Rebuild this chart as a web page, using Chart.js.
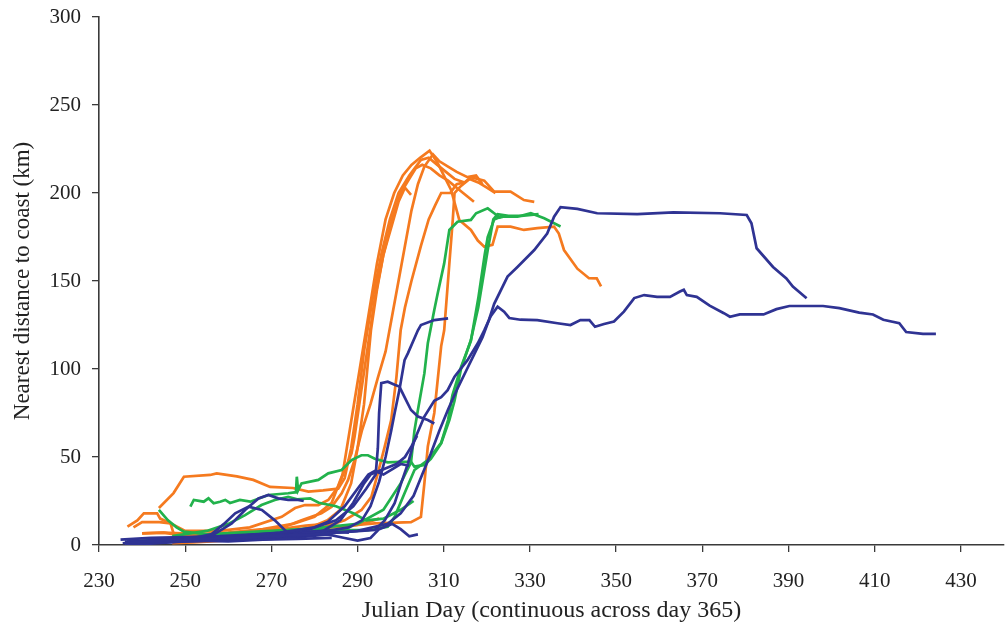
<!DOCTYPE html>
<html>
<head>
<meta charset="utf-8">
<script src="https://cdn.jsdelivr.net/npm/chart.js@4/dist/chart.umd.min.js"></script>
<style>
  html, body { margin: 0; padding: 0; background: #fff; }
  #wrap { width: 1005px; height: 631px; }
</style>
</head>
<body>
<div id="wrap"><canvas id="myChart" width="1005" height="631"></canvas></div>
<script>
// tick labels
const xTicks = [230, 250, 270, 290, 310, 330, 350, 370, 390, 410, 430];
const yTicks = [0, 50, 100, 150, 200, 250, 300];

// tracks, [julian day, km from coast]
// blue group
const blue1 = [[235.5,1],[240,2],[250,3],[260,4],[270,5],[280,6],[290,8],[297,12],[300,18],[303,28],[305,40],[307,52],[309,65],[311,77],[313,88],[315,98],[317,108],[319,118],[320.5,128],[321.7,137],[324.8,152.5],[327.1,158],[331,167.6],[334,177],[335.6,186.5],[337.1,192],[341,191],[345.6,188.5],[354.9,188],[363.3,189],[374.1,188.5],[380.3,187.5],[381.4,182.8],[382.6,168.6],[386.4,158],[389.5,151.5],[391,146.8],[394.2,140.2]];
const blue2 = [[236,0.5],[245,2],[255,3],[265,4],[275,5],[285,7],[294,8.5],[296.3,14],[298.6,23.7],[300.1,35],[301.7,46.4],[303.2,59.7],[305.5,73],[307.8,82],[309.4,84],[310.9,88],[312.5,95.6],[315.5,105],[317.9,114.6],[319.4,122],[320.9,130],[322.5,135.4],[324,132.6],[325.2,129],[327.8,128],[331.7,127.8],[336.4,126],[339.4,125],[341.7,127.8],[343.8,127.8],[345.1,124],[347.2,125.6],[349.5,127],[351.8,132.6],[354.2,140.3],[356.5,142],[359.5,141],[362.5,141],[364.8,144],[365.7,145],[366.4,142],[368.7,141],[371.7,136],[375,131.7],[376.4,129.7],[378.7,131],[384.2,131],[387.2,134],[390.2,135.8],[398,135.8],[401.8,134.6],[406.4,132],[409.6,131],[412,128],[415.7,126],[417.3,121],[421.2,120],[424.2,120]];
const blue3 = [[236.5,2],[245,3],[255,4],[265,5],[275,6],[283,8],[288,10],[291,14],[293,22],[295,36],[296.5,50],[297.8,65],[298.6,75],[299.7,88],[300.9,105],[301.7,109],[304,122],[304.7,125],[307.8,127.8],[311,128.8]];
const blue4 = [[237,1],[250,3],[262,5],[272,7],[280,10],[285,14],[289,22],[292,32],[294.2,40],[294.7,55],[295,75],[295.5,92],[297,92.8],[298.6,91],[299.7,90],[300.9,84],[302.4,76.7],[304,73],[306.3,71],[307.8,69]];
const blue5 = [[256,5],[258,8],[260.8,12.3],[263.9,19.9],[267,26.5],[269.3,28.4],[271.6,26.5],[273.9,25.6],[276.2,25.6],[277.5,25]];
const blue6 = [[250,3],[256,6],[259,12],[261.6,18],[264.7,21.8],[267.8,19.9],[270.8,14],[273.9,6.6],[277,5],[282,8],[286,14],[289,24],[291.5,35],[293,40],[295,42],[297,44],[299,46],[301,50],[302.5,56],[303.8,62]];
const blue7 = [[237,0],[250,2],[260,3],[270,5],[278,8],[283,13],[287,22],[290,32],[292.5,40],[294,42],[296,40],[298,43],[300,46],[302,45]];
const blue8 = [[236,1],[250,2],[265,3],[275,4],[283,6],[287,4],[290,2.5],[293,4],[295,9],[298,12],[300,9],[302,5],[304,6]];
const blue9 = [[235,3],[242,4],[250,4.5],[258,5],[266,6],[274,7],[282,8],[288,7]];
const blue10 = [[236,2],[244,1.5],[252,2.5],[260,2],[268,3],[276,3.5],[284,4]];

// green group
const green1 = [[243.9,20],[246,14],[248,10],[249.7,7.6],[255,6],[262,7],[270,8],[278,9],[284.7,8.5],[292.4,8.5],[297,10.4],[298.6,16],[300.9,29.4],[303.2,42.6],[306.3,48.3],[309.4,58],[311,71],[312,85],[314,101],[316.3,116],[318,140],[319.5,165],[320.2,175],[321.7,185],[323.2,186.5],[327.1,186.5],[330.2,188.5],[333.3,185.6],[337.1,181]];
const green2 = [[251.2,21.8],[252,25.6],[254.3,24.6],[255.4,26.5],[256.6,23.7],[258.1,24.6],[259.3,25.6],[260.4,23.9],[262.7,25.6],[265.1,24.6],[269.3,28.4],[273.9,29.4],[275.7,30],[275.9,38.8],[276.2,31],[277,35],[280.9,37],[283.2,40.7],[286.3,42.6],[288.6,48.3],[290.9,51],[292.4,51],[294,49],[297,47],[300.1,47.3],[302.4,47.3],[303.2,44.5],[305.5,45.5],[307,49],[309.4,57.8],[311.3,71],[312.5,82],[314,100],[316.3,116.5],[318,135],[320.2,167.6],[321.5,185],[322.5,188],[325,187],[328,187],[332,188]];
const green3 = [[237,2],[250,4],[262,6],[272,8],[282,10],[290,12],[296,20],[300,35],[302.4,47],[303.2,65],[304,76.7],[305.5,97.5],[306.3,114.6],[307.8,133.5],[308.6,143],[310.1,160],[311.3,179],[313.2,183.7],[316.3,184.7],[317.5,188.5],[320.2,191.3],[321.7,188.5],[323,186],[324.5,187]];
const green4 = [[247,5],[255,8],[260,12],[263.9,17],[267.7,22.7],[270.8,25.6],[273.9,27.4],[276,26],[279,26.5],[281,24],[285,22],[289,18],[292,14],[296,15],[300,20],[303,25]];

// orange group
const orange1 = [[236.6,10.4],[238.9,14],[240.4,18],[243.5,18],[244.2,15],[246.6,12.3],[247.3,6.6],[252,6],[260,7],[268,9],[275,12],[280,16],[284,24],[286.5,40],[288.5,70],[290.5,100],[292.5,130],[294.5,160],[296.5,185],[298.5,200],[300.5,210],[302.5,216],[304.5,220],[306.7,224],[308.6,217],[310,210],[311.7,201.7],[313.6,184.7],[316.3,179],[317.9,173],[319.4,169.5],[321.3,170.5],[322.5,180.9],[325.5,180.9],[328.6,179],[331.7,180],[335.6,180.9],[336.7,177],[337.9,167.6],[341,157],[343.7,151.6],[345.5,151.5],[346.5,147]];
const orange2 = [[243.9,21],[247.3,29.5],[249.7,38.8],[255.8,39.8],[257.3,40.7],[262,39],[265.8,37],[269.7,33],[275,32.4],[278.6,30.3],[282,31],[285.5,32],[287,38],[288.5,55],[290,80],[291.5,110],[293.5,140],[295.5,165],[297.5,185],[299.5,200],[302,210],[304.7,218.8],[306.5,220],[308.5,216],[310.5,212],[312.5,208],[314.8,206],[316.3,209],[319.4,207],[321.7,200.8],[325.5,200.8],[328.6,196],[331,195]];
const orange3 = [[238,10],[240,13],[244,13],[246.6,12.3],[250,8],[258,8],[265,10],[272.4,16],[275.5,21],[277.8,22.7],[280.9,22.7],[283.2,25.6],[285.5,33],[287,42.6],[288.6,52],[289.3,61.5],[291,90],[292.5,115],[294,140],[296,165],[298,185],[300,200],[302,208],[303.5,214],[305,216],[307,214],[309,210],[311,207],[313,203],[315,199],[317,195]];
const orange4 = [[240,6.6],[245,7],[255,6],[262,7],[269.3,8.5],[273.1,10.4],[277,14],[279.3,16],[281.6,18],[284,21.8],[286.3,29.4],[287.8,37],[289.3,48.3],[291,65],[293,80],[294.7,95],[296.5,110],[298,130],[299.5,150],[301,170],[302.5,190],[304,205],[305.5,215],[307.5,222],[309,218],[311,215],[313,212],[315.5,209],[317.5,210],[319,205]];
const orange5 = [[255,3],[265,5],[275,7],[282,10],[287,14],[290.9,19.9],[293.2,27.4],[294.7,40.7],[296.3,55.9],[297.8,71],[299,95],[300,122],[301,135],[302.5,150],[304.7,170],[306.5,185],[308,193],[309.4,200],[311.5,200],[313,205],[314.8,206]];
const orange6 = [[240,6.6],[245,7],[250,5],[260,6],[270,7],[280,9],[288,11],[294,12.3],[302.4,13],[304.7,16],[305.5,35],[306.3,56],[307.8,75],[309.4,113],[310.1,122],[311.3,160],[312.1,185],[312.5,200],[314,204],[316,208],[318,206],[320,203],[322,200]];
const orange7 = [[247,1],[252,1.5],[256,2],[262,3],[268,5],[274,7],[279,10],[283,14],[286,20],[288.5,35],[290,55],[291.5,80],[293.1,122],[294.5,145],[296,165],[298,182],[299.5,195],[301,203],[302.4,199]];
const orange8 = [[250,4],[258,5],[265,6],[272,9],[278,11],[283,12],[287,10],[291,12],[295,15]];

const blueTracks = [blue1, blue2, blue3, blue4, blue5, blue6, blue7, blue8, blue9, blue10];
const greenTracks = [green1, green2, green3, green4];
const orangeTracks = [orange1, orange2, orange3, orange4, orange5, orange6, orange7, orange8];

const BLUE = '#2f3393';
const GREEN = '#22b24c';
const ORANGE = '#f57a1f';

function makeSet(track, color) {
  return {
    data: track.map(p => ({ x: p[0], y: p[1] })),
    borderColor: color,
    borderWidth: 2.7,
    pointRadius: 0,
    tension: 0,
    fill: false
  };
}

// first dataset is drawn on top, so blue goes first
const datasets = []
  .concat(blueTracks.map(t => makeSet(t, BLUE)))
  .concat(greenTracks.map(t => makeSet(t, GREEN)))
  .concat(orangeTracks.map(t => makeSet(t, ORANGE)));

const serif = "'Liberation Serif', 'DejaVu Serif', serif";
const axisColor = '#3a3a3a';

const ctx = document.getElementById('myChart').getContext('2d');
const myChart = new Chart(ctx, {
  type: 'line',
  data: { datasets: datasets },
  options: {
    responsive: false,
    animation: false,
    events: [],
    layout: { padding: { top: 17, right: 1, left: 0, bottom: 0 } },
    plugins: { legend: { display: false }, tooltip: { enabled: false } },
    scales: {
      x: {
        type: 'linear',
        min: 230,
        max: 440,
        afterBuildTicks: s => { s.ticks = xTicks.map(v => ({ value: v })); },
        afterFit: s => { s.height = 86; s.paddingLeft = 0; s.paddingRight = 0; },
        grid: { drawOnChartArea: false, drawTicks: true, tickLength: 7, color: axisColor, lineWidth: 1.3 },
        border: { color: axisColor, width: 1.6 },
        ticks: { color: '#222', font: { family: serif, size: 21 }, padding: 17, maxRotation: 0 },
        title: { display: true, text: 'Julian Day (continuous across day 365)', color: '#222', font: { family: serif, size: 24 }, padding: { top: 4, bottom: 6 } }
      },
      y: {
        type: 'linear',
        min: 0,
        max: 300,
        afterBuildTicks: s => { s.ticks = yTicks.map(v => ({ value: v })); },
        afterFit: s => { s.width = 99; s.paddingTop = 0; s.paddingBottom = 0; },
        grid: { drawOnChartArea: false, drawTicks: true, tickLength: 7, color: axisColor, lineWidth: 1.3 },
        border: { color: axisColor, width: 1.6 },
        ticks: { color: '#222', font: { family: serif, size: 21 }, padding: 11 },
        title: { display: true, text: 'Nearest distance to coast (km)', color: '#222', font: { family: serif, size: 23 }, padding: { top: 9, bottom: 4 } }
      }
    }
  }
});
</script>
</body>
</html>
